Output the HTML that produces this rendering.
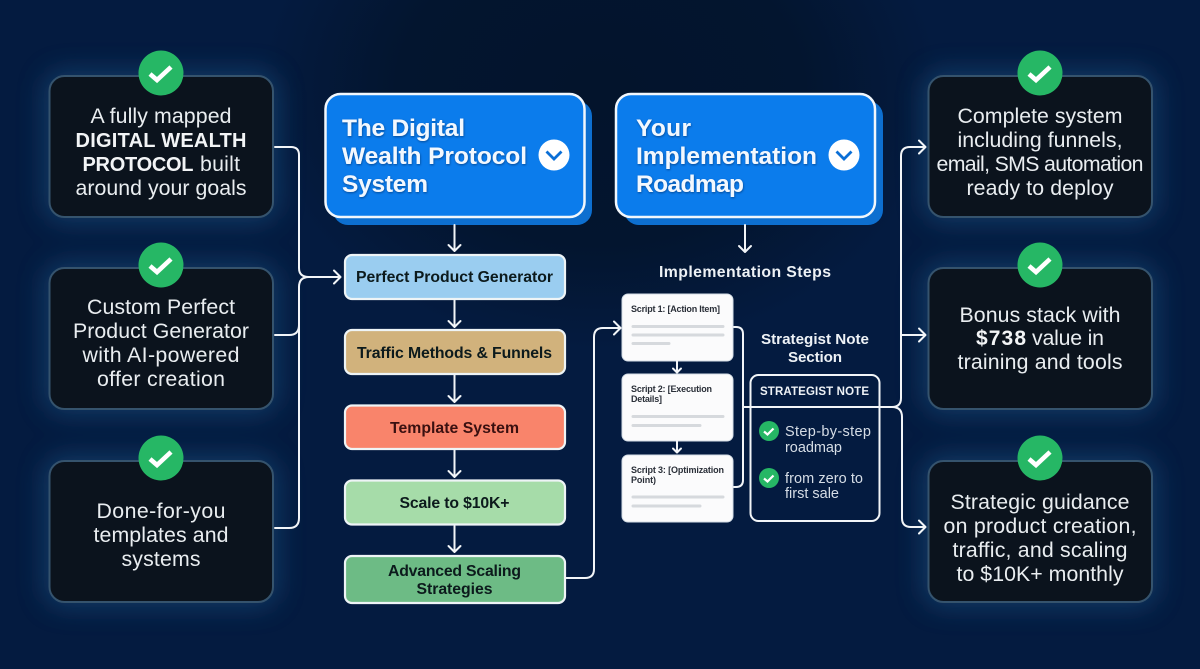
<!DOCTYPE html>
<html>
<head>
<meta charset="utf-8">
<style>
html,body{margin:0;padding:0;width:1200px;height:669px;overflow:hidden;background:#041b40}
svg{display:block;position:absolute;left:0;top:0}
text{font-family:"Liberation Sans",sans-serif}
.c{font-size:21.300px;fill:#e9edf0;text-anchor:middle}
.b{font-size:20px;font-weight:bold;fill:#f2f4f6}
.h{font-size:24.500px;font-weight:bold;fill:#f2f8ff}
.f{font-size:15.800px;font-weight:bold;fill:#0c1a1c;text-anchor:middle}
.w{font-weight:bold;fill:#eef2f6;text-anchor:middle}
.s{font-size:9px;font-weight:bold;fill:#2a2f38}
.n{font-size:14.500px;fill:#d6dde6}
.l{fill:none;stroke:#f2f5f8;stroke-width:2;stroke-linecap:round;stroke-linejoin:round}
.g{stroke:#d6d9dd;stroke-width:3;stroke-linecap:round}
.k{fill:none;stroke:#fff;stroke-width:4.600;stroke-linecap:butt;stroke-linejoin:miter}
</style>
</head>
<body>
<svg width="1200" height="669" viewBox="0 0 1200 669" xmlns="http://www.w3.org/2000/svg">
<defs>
<radialGradient id="top" gradientUnits="userSpaceOnUse" cx="0" cy="0" r="1" gradientTransform="translate(600 90) scale(340 260)">
<stop offset="0" stop-color="#03142c"/>
<stop offset="0.6" stop-color="#03152f"/>
<stop offset="1" stop-color="#03152f" stop-opacity="0"/>
</radialGradient>
<filter id="blur" filterUnits="userSpaceOnUse" x="-100" y="-100" width="1400" height="869"><feGaussianBlur stdDeviation="13"/></filter>
<filter id="ts" x="-10%" y="-20%" width="120%" height="150%"><feDropShadow dx="0.5" dy="1" stdDeviation="1" flood-color="#043a80" flood-opacity="0.8"/></filter>
</defs>

<rect width="1200" height="669" fill="#041b40"/>
<rect width="1200" height="669" fill="url(#top)"/>

<!-- glows -->
<g fill="#1c5585" opacity="0.55" filter="url(#blur)">
<rect x="44" y="71" width="234" height="151" rx="20"/>
<rect x="44" y="263" width="234" height="151" rx="20"/>
<rect x="44" y="456" width="234" height="151" rx="20"/>
<rect x="923" y="71" width="234" height="151" rx="20"/>
<rect x="923" y="263" width="234" height="151" rx="20"/>
<rect x="923" y="456" width="234" height="151" rx="20"/>
</g>

<!-- cards -->
<g fill="#0b131d" stroke="#35536d" stroke-width="2">
<rect x="49.500" y="76" width="223.500" height="141" rx="15"/>
<rect x="49.500" y="268" width="223.500" height="141" rx="15"/>
<rect x="49.500" y="461" width="223.500" height="141" rx="15"/>
<rect x="928.500" y="76" width="223.500" height="141" rx="15"/>
<rect x="928.500" y="268" width="223.500" height="141" rx="15"/>
<rect x="928.500" y="461" width="223.500" height="141" rx="15"/>
</g>

<!-- check badges -->
<g>
<circle cx="161" cy="73" r="22.500" fill="#26b765"/><path class="k" d="M150 74l7 6 14-13"/>
<circle cx="161" cy="265" r="22.500" fill="#26b765"/><path class="k" d="M150 266l7 6 14-13"/>
<circle cx="161" cy="458" r="22.500" fill="#26b765"/><path class="k" d="M150 459l7 6 14-13"/>
<circle cx="1040" cy="73" r="22.500" fill="#26b765"/><path class="k" d="M1029 74l7 6 14-13"/>
<circle cx="1040" cy="265" r="22.500" fill="#26b765"/><path class="k" d="M1029 266l7 6 14-13"/>
<circle cx="1040" cy="458" r="22.500" fill="#26b765"/><path class="k" d="M1029 459l7 6 14-13"/>
</g>

<!-- left text -->
<text class="c" x="161" y="123" textLength="141">A fully mapped</text>
<text class="c b" x="161" y="147" textLength="171">DIGITAL WEALTH</text>
<text class="c b" x="138" y="171" textLength="111">PROTOCOL</text>
<text class="c" x="220" y="171" textLength="40">built</text>
<text class="c" x="161" y="195" textLength="171">around your goals</text>

<text class="c" x="161" y="314" textLength="148">Custom Perfect</text>
<text class="c" x="161" y="338" textLength="176">Product Generator</text>
<text class="c" x="161" y="362" textLength="157">with AI-powered</text>
<text class="c" x="161" y="386" textLength="128">offer creation</text>

<text class="c" x="161" y="518" textLength="129">Done-for-you</text>
<text class="c" x="161" y="542" textLength="135">templates and</text>
<text class="c" x="161" y="566" textLength="79">systems</text>

<!-- right text -->
<text class="c" x="1040" y="123" textLength="165">Complete system</text>
<text class="c" x="1040" y="147" textLength="165">including funnels,</text>
<text class="c" x="1040" y="171" textLength="207">email, SMS automation</text>
<text class="c" x="1040" y="195" textLength="147">ready to deploy</text>

<text class="c" x="1040" y="322" textLength="161">Bonus stack with</text>
<text class="c b" x="1001" y="345" textLength="50" style="font-size:21px">$738</text>
<text class="c" x="1068" y="345" textLength="72">value in</text>
<text class="c" x="1040" y="369" textLength="165">training and tools</text>

<text class="c" x="1040" y="509" textLength="179">Strategic guidance</text>
<text class="c" x="1040" y="533" textLength="193">on product creation,</text>
<text class="c" x="1040" y="557" textLength="175">traffic, and scaling</text>
<text class="c" x="1040" y="581" textLength="167">to $10K+ monthly</text>

<!-- header boxes -->
<rect x="333" y="101" width="259" height="124" rx="15" fill="#0d6fd0"/>
<rect x="325.500" y="94" width="259" height="123" rx="15" fill="#0b7cec" stroke="#f2f7fc" stroke-width="2.500"/>
<text class="h" x="342" y="136" textLength="123" filter="url(#ts)">The Digital</text>
<text class="h" x="342" y="164" textLength="185" filter="url(#ts)">Wealth Protocol</text>
<text class="h" x="342" y="192" textLength="86" filter="url(#ts)">System</text>
<circle cx="554" cy="155" r="15.500" fill="#fff"/>
<path d="M546.500 151.500l7.500 7.500 7.500-7.500" fill="none" stroke="#0b6fd6" stroke-width="2.800"/>

<rect x="624" y="101" width="259" height="124" rx="15" fill="#0d6fd0"/>
<rect x="616" y="94" width="259" height="123" rx="15" fill="#0b7cec" stroke="#f2f7fc" stroke-width="2.500"/>
<text class="h" x="636" y="136" textLength="55" filter="url(#ts)">Your</text>
<text class="h" x="636" y="164" textLength="181" filter="url(#ts)">Implementation</text>
<text class="h" x="636" y="192" textLength="108" filter="url(#ts)">Roadmap</text>
<circle cx="844" cy="155" r="15.500" fill="#fff"/>
<path d="M836.500 151.500l7.500 7.500 7.500-7.500" fill="none" stroke="#0b6fd6" stroke-width="2.800"/>

<!-- flow boxes -->
<g stroke="#eef4f6" stroke-width="2.200">
<rect x="345" y="255" width="220" height="44" rx="7" fill="#9acdf0"/>
<rect x="345" y="330" width="220" height="44" rx="7" fill="#d1b27c"/>
<rect x="345" y="405.500" width="220" height="43.500" rx="7" fill="#f9846b"/>
<rect x="345" y="480.500" width="220" height="44" rx="7" fill="#a6dca9"/>
<rect x="345" y="556" width="220" height="47" rx="7" fill="#6dbb85"/>
</g>
<text class="f" x="454.500" y="282" textLength="197">Perfect Product Generator</text>
<text class="f" x="454.500" y="358" textLength="195">Traffic Methods &amp; Funnels</text>
<text class="f" x="454.500" y="433" textLength="129" style="fill:#3a1010">Template System</text>
<text class="f" x="454.500" y="508" textLength="110">Scale to $10K+</text>
<text class="f" x="454.500" y="576" textLength="133">Advanced Scaling</text>
<text class="f" x="454.500" y="594" textLength="76">Strategies</text>

<!-- flow arrows -->
<g class="l">
<path d="M454.500 225V251M448.500 245l6 6 6-6"/>
<path d="M454.500 300V327M448.500 321l6 6 6-6"/>
<path d="M454.500 375V402M448.500 396l6 6 6-6"/>
<path d="M454.500 450V477M448.500 471l6 6 6-6"/>
<path d="M454.500 526V552M448.500 546l6 6 6-6"/>
<path d="M745 225V252M739 246l6 6 6-6"/>
<!-- left bus -->
<path d="M275 147H291Q299 147 299 155V268Q299 277 309 277H340M334 270.500l6.500 6.500-6.500 6.500"/>
<path d="M275 335H289Q299 335 299 325"/>
<path d="M275 528H289Q299 528 299 518V287Q299 277 309 277"/>
<!-- advanced to scripts -->
<path d="M566 578H585Q594 578 594 569V337Q594 328 603 328H620M614 321.500l6.500 6.500-6.500 6.500"/>
<!-- scripts bracket -->
<path d="M733 327H736Q743 327 743 334V480Q743 487 736 487H733"/>
<path d="M892 407Q901 407 901 398V156Q901 147 910 147H925M919 140.500l6.500 6.500-6.500 6.500"/>
<path d="M901 335H925M919 328.500l6.500 6.500-6.500 6.500"/>
<path d="M892 407Q902 407 902 417V518Q902 527 911 527H925M919 520.500l6.500 6.500-6.500 6.500"/>
</g>

<text class="w" x="745" y="277" font-size="15.800" textLength="172">Implementation Steps</text>

<!-- script cards -->
<g fill="#fbfbfc" stroke="#d4dde6" stroke-width="1">
<rect x="622" y="294" width="111" height="67" rx="6"/>
<rect x="622" y="374" width="111" height="67" rx="6"/>
<rect x="622" y="455" width="111" height="67" rx="6"/>
</g>
<text class="s" x="631" y="312" textLength="89">Script 1: [Action Item]</text>
<text class="s" x="631" y="392" textLength="81">Script 2: [Execution</text>
<text class="s" x="631" y="402" textLength="31">Details]</text>
<text class="s" x="631" y="473" textLength="93">Script 3: [Optimization</text>
<text class="s" x="631" y="483" textLength="25">Point)</text>
<g class="g">
<path d="M633 326.500H723M633 335H723M633 343.500H669"/>
<path d="M633 416.500H723M633 425.500H700"/>
<path d="M633 497H723M633 506H700"/>
</g>
<g class="l">
<path d="M677 361V372M673 368.500l4 4 4-4"/>
<path d="M677 441V452M673 448.500l4 4 4-4"/>
</g>

<!-- strategist -->
<text class="w" x="815" y="344" font-size="15.200" textLength="108">Strategist Note</text>
<text class="w" x="815" y="362" font-size="15.200" textLength="54">Section</text>
<rect x="750.500" y="375" width="129" height="146" rx="8" fill="none" stroke="#f2f5f8" stroke-width="2"/>
<path d="M743 407H892" class="l"/>
<text class="w" x="814.500" y="395" font-size="11.500" textLength="109">STRATEGIST NOTE</text>
<circle cx="769" cy="431" r="10" fill="#26b765"/><path d="M764 431.500l3.500 3 6-6" fill="none" stroke="#fff" stroke-width="2.200"/>
<circle cx="769" cy="478" r="10" fill="#26b765"/><path d="M764 478.500l3.500 3 6-6" fill="none" stroke="#fff" stroke-width="2.200"/>
<text class="n" x="785" y="436" textLength="86">Step-by-step</text>
<text class="n" x="785" y="452" textLength="57">roadmap</text>
<text class="n" x="785" y="483" textLength="78">from zero to</text>
<text class="n" x="785" y="498" textLength="54">first sale</text>
</svg>
</body>
</html>
